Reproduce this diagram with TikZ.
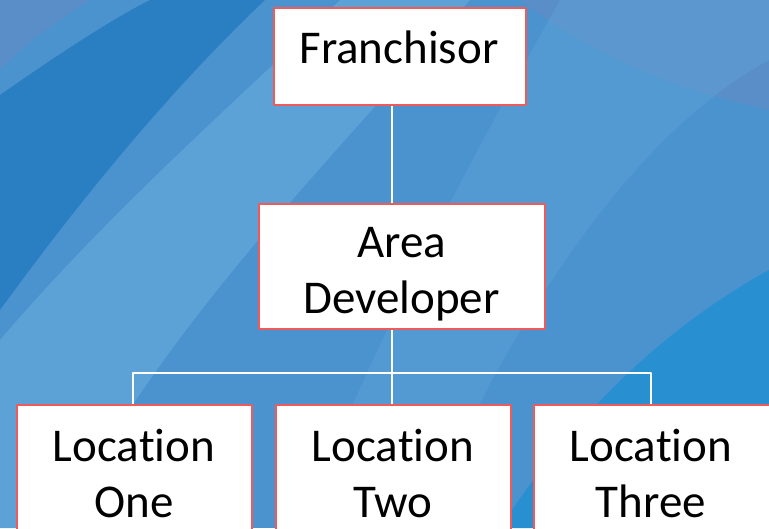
\documentclass[tikz,border=0pt]{standalone}
\usepackage{fontspec}
\setmainfont[RawFeature=-liga]{Carlito}
\definecolor{bgbase}{HTML}{4A93CF}
\definecolor{bgdark}{HTML}{2A7FC2}
\definecolor{bglight}{HTML}{62A6DA}
\definecolor{bgdeep}{HTML}{2890D0}
\definecolor{bgtop}{HTML}{5A8EC8}
\definecolor{boxred}{HTML}{F05A5A}
\tikzset{
  orgbox/.style={draw=boxred, fill=white, line width=1.6pt, inner sep=0pt},
  orglabel/.style={font=\fontsize{47}{56}\selectfont, align=center, anchor=base, inner sep=0pt},
  link/.style={draw=white, line width=1.3pt}
}
\begin{document}
\begin{tikzpicture}[x=1pt,y=-1pt,line join=round]
\useasboundingbox (0,0) rectangle (769,528);
% background swooshes
\fill[bgbase] (0,0) rectangle (769,528);
\fill[bgtop] (0,0) -- (0,70) .. controls (30,40) .. (90,0) -- cycle;
\fill[bgtop] (520,0) .. controls (600,60) and (680,90) .. (769,110) -- (769,0) -- cycle;
\fill[bgdark] (0,95) .. controls (50,60) and (110,20) .. (150,0) -- (265,0)
  .. controls (170,90) and (80,200) .. (0,310) -- cycle;
\fill[bglight,opacity=0.8] (0,340) .. controls (120,200) and (250,90) .. (340,0) -- (470,0)
  .. controls (330,160) and (160,330) .. (60,528) -- (0,528) -- cycle;
\fill[bglight,opacity=0.4] (560,0) .. controls (470,160) and (380,330) .. (300,528)
  -- (420,528) .. controls (520,300) and (640,130) .. (769,60) -- (769,0) -- cycle;
\fill[bgdeep] (769,270) .. controls (660,330) and (570,420) .. (500,528) -- (769,528) -- cycle;
% boxes
\node[orgbox, minimum width=252, minimum height=97] (fr) at (400,56.5) {};
\node[orgbox, minimum width=286, minimum height=125] (ad) at (402,266.5) {};
\node[orgbox, minimum width=235, minimum height=150] (loc1) at (134.5,480) {};
\node[orgbox, minimum width=235, minimum height=150] (loc2) at (393.5,480) {};
\node[orgbox, minimum width=238, minimum height=150] (loc3) at (653,480) {};
% texts (base = last line)
\node[orglabel] (frt) at (399,63) {Franchisor};
\node[orglabel] (adt) at (401.5,313) {Area\\Developer};
\node[orglabel] (loc1t) at (134,517) {Location\\One};
\node[orglabel] (loc2t) at (393,517) {Location\\Two};
\node[orglabel] (loc3t) at (651,517) {Location\\Three};
% connectors
\coordinate (trunk) at (392,373);
\draw[link] (trunk |- fr.south) -- (trunk |- ad.north);
\draw[link] (trunk |- ad.south) -- (trunk);
\draw[link] (loc1.north -| 133,0) |- (trunk) -| (loc3.north -| 651,0);
\draw[link] (trunk) -- (trunk |- loc2.north);
\end{tikzpicture}
\end{document}
